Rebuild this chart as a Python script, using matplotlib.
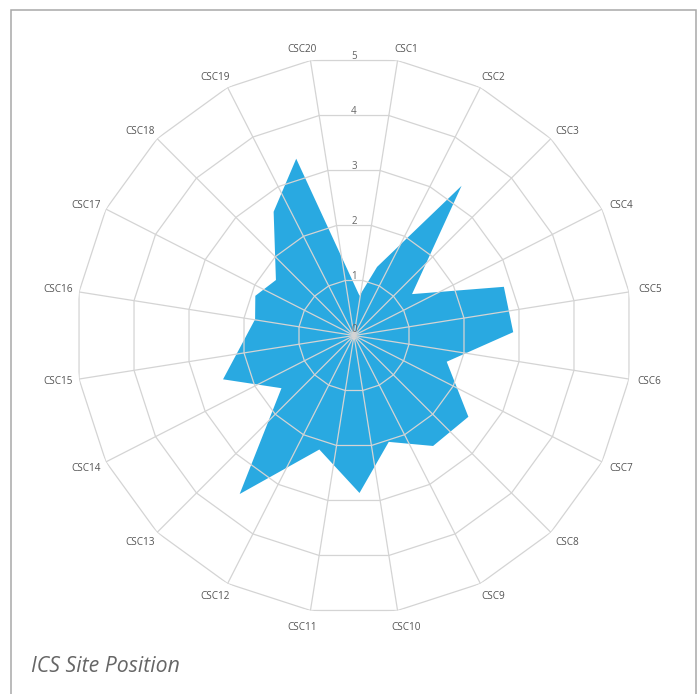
import matplotlib
matplotlib.use("Agg")
import numpy as np
import matplotlib.pyplot as plt
from matplotlib.patches import Rectangle

# ---- data ----
categories = [f"CSC{i}" for i in range(1, 21)]
point_angles_deg = [7.9, 18.6, 35.7, 54.5, 72.0, 88.8, 105.8, 125.4, 144.4, 161.9,
                    178.0, 196.9, 215.8, 234.0, 251.5, 279.3, 291.9, 305.4, 327.0, 341.9]
point_values = [0.72, 1.30, 3.31, 1.28, 2.83, 2.86, 1.73, 2.52, 2.44, 2.01,
                2.83, 2.14, 3.51, 1.61, 2.48, 1.80, 1.91, 1.72, 2.65, 3.34]
ring_values = [1, 2, 3, 4, 5]
value_tick_labels = ["0", "1", "2", "3", "4", "5"]
title = "ICS Site Position"

W, H = 699, 694
cx, cy, R = 354.0, 335.5, 278.4

fig = plt.figure(figsize=(W / 100, H / 100), dpi=100)
fig.patch.set_facecolor("white")

ax = fig.add_axes([(cx - R) / W, (H - cy - R) / H, 2 * R / W, 2 * R / H], projection="polar")
ax.set_theta_zero_location("N")
ax.set_theta_direction(-1)
ax.set_ylim(0, 5)
ax.grid(False)
ax.set_xticks([])
ax.set_yticks([])
ax.spines["polar"].set_visible(False)
ax.patch.set_alpha(0)

# data area
th = np.deg2rad(point_angles_deg)
ax.fill(np.append(th, th[0]), np.append(point_values, point_values[0]),
        color="#29a9e1", lw=0, zorder=1)

grid_color = "#d4d4d4"
n = len(categories)
spoke_deg = 9 + 360.0 / n * np.arange(n)
spoke_th = np.deg2rad(spoke_deg)
for t in spoke_th:
    ax.plot([t, t], [0, ring_values[-1]], color=grid_color, lw=0.9, zorder=2)
for k in ring_values:
    ax.plot(np.append(spoke_th, spoke_th[0]), [k] * (n + 1), color=grid_color, lw=0.9, zorder=2)

# value labels along the top axis
px2pt = 72 / 100
for i, lab in enumerate(value_tick_labels):
    r = i * np.cos(np.deg2rad(9))
    dy = 6.5 if i == 0 else 4.5
    ax.annotate(lab, xy=(0, r), xytext=(0, dy * px2pt), textcoords="offset points",
                ha="center", va="center", fontsize=7, color="#666666",
                family="Open Sans", zorder=3, annotation_clip=False)

# category labels
for lab, a in zip(categories, spoke_deg):
    ar = np.deg2rad(a)
    sx, sy = np.sin(ar), np.cos(ar)
    ox = 15 * sx + 6 * np.sign(sx)
    oy = 15 * sy
    if sy > 0.3:
        oy -= 3.5
    elif sy < -0.9:
        oy -= 2
    ax.annotate(lab, xy=(ar, ring_values[-1]), xytext=(ox * px2pt, oy * px2pt),
                textcoords="offset points", ha="center", va="center",
                fontsize=7.2, color="#555555", family="Open Sans",
                annotation_clip=False)

# frame
fig.add_artist(Rectangle((10.5 / W, -0.02), (695.5 - 10.5) / W, (H - 9.5) / H + 0.02,
                         transform=fig.transFigure, fill=False,
                         edgecolor="#a8a8a8", lw=1.1))

fig.text(31 / W, (H - 666) / H, title, ha="left", va="center", fontsize=15.3,
         style="italic", color="#666666", family="Open Sans")

fig.savefig("out.png", dpi=100)
